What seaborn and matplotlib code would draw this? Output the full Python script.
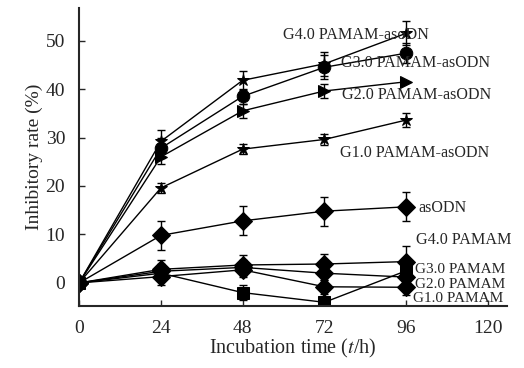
import numpy as np
import pandas as pd
import matplotlib
matplotlib.use("Agg")
import matplotlib.pyplot as plt
import seaborn as sns

# Incubation time points (h)
hours = [0, 24, 48, 72, 96]

# Series: name -> values
series_names = [
    "G4.0 PAMAM-asoDN", "G3.0 PAMAM-asODN", "G2.0 PAMAM-asODN",
    "G1.0 PAMAM-asODN", "asODN",
    "G4.0 PAMAM", "G3.0 PAMAM", "G2.0 PAMAM", "G1.0 PAMAM",
]
g4_aso = [0, 29.2, 41.8, 45.2, 51.5]
g3_aso = [0, 27.8, 38.5, 44.5, 47.4]
g2_aso = [0, 26.0, 35.5, 39.6, 41.5]
g1_aso = [0, 19.6, 27.6, 29.6, 33.6]
aso = [0, 9.8, 12.8, 14.8, 15.7]
g4_pam = [0, 2.8, 3.7, 3.9, 4.4]
g3_pam = [0, 2.4, 3.2, 2.0, 1.2]
g2_pam = [0, 1.3, 2.7, -0.8, -0.9]
g1_pam = [0, 2.0, -2.0, -4.0, 2.5]

err_g4_aso = [0, 2.3, 2.0, 2.5, 2.5]
err_g3_aso = [0, 2.0, 1.5, 2.5, 2.0]
err_g2_aso = [0, 1.5, 1.5, 1.5, 0]
err_g1_aso = [0, 1.0, 1.0, 1.2, 1.5]
err_aso = [0, 3.0, 3.0, 3.0, 3.0]
err_g4_pam = [0, 2.0, 2.0, 2.0, 3.2]
err_g3_pam = [0, 1.5, 1.5, 1.5, 1.5]
err_g2_pam = [0, 1.8, 1.5, 1.5, 1.5]
err_g1_pam = [0, 1.5, 1.5, 1.0, 1.5]

markers = ["*", "o", ">", "*", "D", "D", "D", "D", "s"]

# label text positions (data coords) and sizes
label_x = [59.8, 76.8, 77.1, 76.5, 99.7, 98.8, 98.5, 98.5, 98.0]
label_y = [51.2, 45.4, 38.8, 26.8, 15.5, 8.9, 2.7, -0.3, -3.3]
label_size = [11.6, 11.6, 11.6, 11.6, 11.6, 11.6, 11, 11, 11]

values = [g4_aso, g3_aso, g2_aso, g1_aso, aso, g4_pam, g3_pam, g2_pam, g1_pam]
errors = [err_g4_aso, err_g3_aso, err_g2_aso, err_g1_aso, err_aso,
          err_g4_pam, err_g3_pam, err_g2_pam, err_g1_pam]

df = pd.DataFrame(
    [(name, h, v) for name, vals in zip(series_names, values) for h, v in zip(hours, vals)],
    columns=["series", "time", "rate"],
)

sns.set_style("ticks")
plt.rcParams["font.family"] = ["Liberation Serif", "DejaVu Serif"]
plt.rcParams["mathtext.fontset"] = "stix"

fig = plt.figure(figsize=(5.24, 3.68), dpi=100)
ax = fig.add_axes([0.151, 0.168, 0.816, 0.81])

sns.lineplot(
    data=df, x="time", y="rate", hue="series", style="series",
    hue_order=series_names, style_order=series_names,
    palette=["black"] * len(series_names), dashes=False,
    markers=dict(zip(series_names, markers)), markersize=9,
    markeredgecolor="black", linewidth=1.0, legend=False, ax=ax,
)

for name, vals, errs in zip(series_names, values, errors):
    ax.errorbar(hours, vals, yerr=errs, fmt="none", ecolor="black",
                elinewidth=1.0, capsize=3)

for name, lx, ly, fs in zip(series_names, label_x, label_y, label_size):
    ax.text(lx, ly, name, fontsize=fs, va="center", ha="left")

ax.set_xlim(0, 125.5)
ax.set_ylim(-4.8, 56.7)
ax.set_xticks([0, 24, 48, 72, 96, 120])
ax.set_yticks([0, 10, 20, 30, 40, 50])
ax.tick_params(direction="in", labelsize=14, length=4, width=1)
ax.tick_params(axis="x", pad=10)
ax.tick_params(axis="y", pad=10)
ax.set_xlabel("Incubation time ($\\it{t}$/h)", fontsize=14.5, labelpad=0)
ax.set_ylabel("Inhibitory rate (%)", fontsize=14, labelpad=2)
ax.spines["top"].set_visible(False)
ax.spines["right"].set_visible(False)
ax.spines["left"].set_linewidth(1.5)
ax.spines["bottom"].set_linewidth(1.5)

fig.savefig("out.png", dpi=100)
